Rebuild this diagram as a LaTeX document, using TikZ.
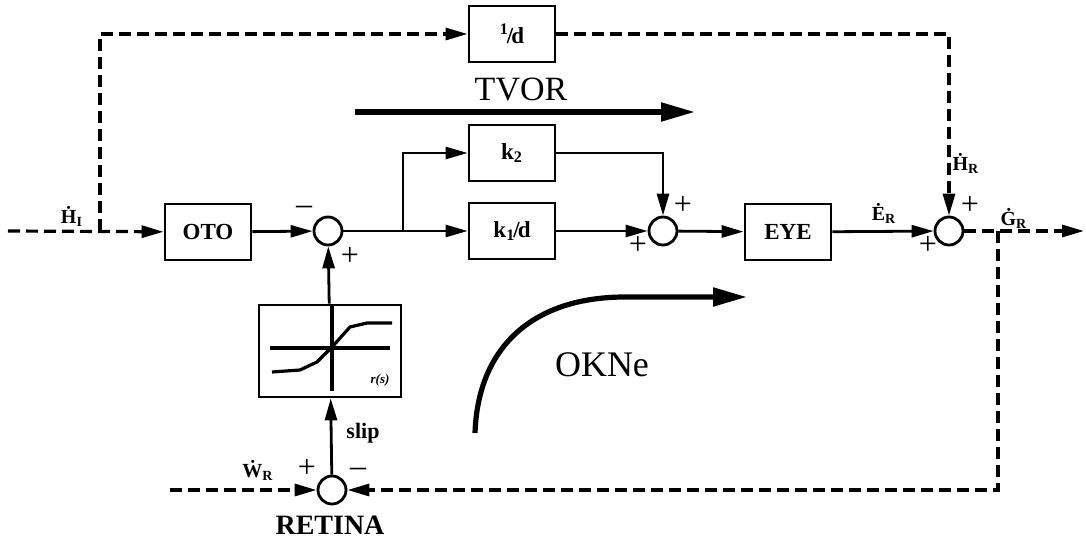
\documentclass[tikz,border=0pt]{standalone}
\usepackage{fontspec}
\setmainfont{Liberation Serif}
\usetikzlibrary{arrows.meta,calc,positioning}
\tikzset{
  sig/.style={line width=1.4pt,-{Triangle[length=11pt,width=6pt]}},
  dsig/.style={sig,line width=1.6pt,dash pattern=on 6pt off 3pt},
  blk/.style={draw,line width=1.4pt,minimum width=43pt,minimum height=28pt,inner sep=1pt,
              font=\fontsize{11.5}{13}\selectfont\bfseries},
  sumj/.style={draw,circle,line width=1.4pt,minimum size=14pt,inner sep=0pt},
  sgn/.style={font=\fontsize{16}{17}\selectfont},
  lbl/.style={font=\fontsize{10}{11}\selectfont\bfseries},
  bigflow/.style={-{Triangle[length=17pt,width=9pt]},line width=2.6pt},
  title/.style={font=\fontsize{17}{19}\selectfont},
}

\begin{document}
\begin{tikzpicture}[x=0.5pt,y=-0.5pt]
  \path[use as bounding box] (0,0) rectangle (1086,540);

  % forward path
  \coordinate (hin) at (8,231);
  \coordinate (tap) at (100,231);
  \node[blk] (oto) at (208,232) {OTO};
  \node[sumj] (s1) at (328,231) {};
  \coordinate (br) at (403,231);
  \node[blk] (k2) at (512,153) {k\textsubscript{2}};
  \node[blk] (k1) at (512,231) {k\textsubscript{1}\kern-1pt/\kern-1pt d};
  \node[sumj] (s2) at (663,231) {};
  \node[blk] (eye) at (788,232) {EYE};
  \node[sumj] (s3) at (949,231) {};
  \coordinate (gtap) at (998,231);
  \coordinate (gout) at (1084,231);
  \node[blk] (inv) at (512,34) {\textsuperscript{1}\kern-1pt/\kern-1pt d};

  % retinal slip loop
  \node[draw,line width=1.4pt,minimum width=71pt,minimum height=46pt] (sat) at (330,351) {};
  \node[sumj] (ret) at (332,490) {};
  \coordinate (win) at (170,490);

  \begin{scope}[shift={(sat.center)}]
    \draw[line width=1.6pt] (-60,-3) -- (60,-3);
    \draw[line width=1.6pt] (2,-46) -- (2,40);
    \draw[line width=1.6pt] (-58,21) -- (-30,19) -- (-13,11) -- (2,-4) -- (20,-24) -- (37,-28) -- (62,-28);
    \node[font=\fontsize{6.5}{7}\selectfont\bfseries\itshape] at (50,29) {r(s)};
  \end{scope}

  \draw[dsig] (hin) -- (oto);
  \draw[dsig] (tap) |- (inv);
  \draw[dsig] (inv) -| (s3);
  \draw[sig] (oto) -- (s1);
  \draw[line width=1.4pt] (s1) -- (br);
  \draw[sig] (br) |- (k2);
  \draw[sig] (br) -- (k1);
  \draw[sig] (k2) -| (s2);
  \draw[sig] (k1) -- (s2);
  \draw[sig] (s2) -- (eye);
  \draw[sig] (eye) -- (s3);
  \draw[dsig] (s3) -- (gout);
  \draw[dsig] (gtap) |- (ret);
  \draw[dsig] (win) -- (ret);
  \draw[sig] (ret) -- (sat);
  \draw[sig] (sat) -- (s1);

  % signs
  \node[sgn] at (304,210) {--};
  \node[sgn] at (350,256) {+};
  \node[sgn] at (683,205) {+};
  \node[sgn] at (638,245) {+};
  \node[sgn] at (970,205) {+};
  \node[sgn] at (928,245) {+};
  \node[sgn] at (307,468) {+};
  \node[sgn] at (358,472) {--};

  % signal labels
  \node[lbl] at (72,216) {\.H\textsubscript{I}};
  \node[lbl] at (884,213) {\.E\textsubscript{R}};
  \node[lbl] at (966,163) {\.H\textsubscript{R}};
  \node[lbl] at (1014,218) {\.G\textsubscript{R}};
  \node[lbl] at (258,470) {\.W\textsubscript{R}};
  \node[lbl,font=\fontsize{11}{12}\selectfont\bfseries] at (363,433) {slip};
  \node[font=\fontsize{14}{16}\selectfont\bfseries] at (330,525) {RETINA};

  % pathway arrows
  \node[title] at (521,90) {TVOR};
  \coordinate (tvs) at (355,112);
  \coordinate (tve) at (695,112);
  \draw[bigflow] (tvs) -- (tve);
  \node[title,font=\fontsize{18}{20}\selectfont] at (602,365) {OKNe};
  \coordinate (oks) at (475,433);
  \coordinate (oke) at (747,297);
  \draw[bigflow] (oks) .. controls (478,345) and (535,297) .. (625,297) -- (oke);
\end{tikzpicture}
\end{document}
